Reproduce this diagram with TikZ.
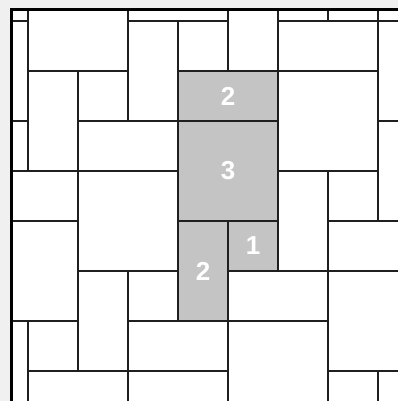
\documentclass[tikz,border=0pt]{standalone}
\usepackage{fontspec}
\setsansfont{Liberation Sans}
\begin{document}
\begin{tikzpicture}[x=50pt,y=-50pt,
  tile/.style={draw=black!88,line width=1.2pt,fill=white},
  gtile/.style={draw=black!88,line width=1.2pt,fill=black!23},
  num/.style={text=white,font=\sffamily\bfseries\fontsize{26}{26}\selectfont,inner sep=0pt}]
% canvas: pixel (0,0)=(-0.56,-0.42), pixel (398,401)=(7.4,7.6)
\useasboundingbox (-0.56,-0.42) rectangle (7.4,7.6);
\fill[black!6] (-0.56,-0.42) rectangle (7.4,7.6);
\begin{scope}
\clip (-0.33,-0.23) rectangle (7.4,7.6);
\foreach \a/\b/\c/\d in {
 -1/-1/0/0, -1/0/0/2, -1/2/0/3, -1/3/1/4, -1/4/1/6, -1/6/0/8,
 0/-1/2/1, 0/1/1/3, 1/1/2/2, 1/2/3/3, 1/3/3/5, 1/5/2/7, 0/6/1/7, 0/7/2/8,
 2/-1/4/0, 2/0/3/2, 3/0/4/1, 4/-1/5/1, 2/5/3/6, 2/6/4/7, 2/7/4/8,
 4/5/6/6, 4/6/6/8, 5/-1/6/0, 6/-1/7/0, 5/0/7/1, 5/1/7/3, 5/3/6/5, 6/3/7/4,
 7/-1/8/0, 7/0/8/2, 7/2/8/4, 6/4/8/5, 6/5/8/7, 6/7/7/8, 7/7/8/8}
 {\draw[tile] (\a,\b) rectangle (\c,\d);}
\draw[gtile] (3,1) rectangle (5,2);
\draw[gtile] (3,2) rectangle (5,4);
\draw[gtile] (3,4) rectangle (4,6);
\draw[gtile] (4,4) rectangle (5,5);
\end{scope}
\draw[line width=3pt,black] (-0.33,7.7) -- (-0.33,-0.23) -- (7.5,-0.23);
\node[num] (ntop) at (4,1.5) {2};
\node[num] (nmid) at (4,3) {3};
\node[num] (nleft) at (3.5,5) {2};
\node[num] (nright) at (4.5,4.5) {1};
\end{tikzpicture}
\end{document}
